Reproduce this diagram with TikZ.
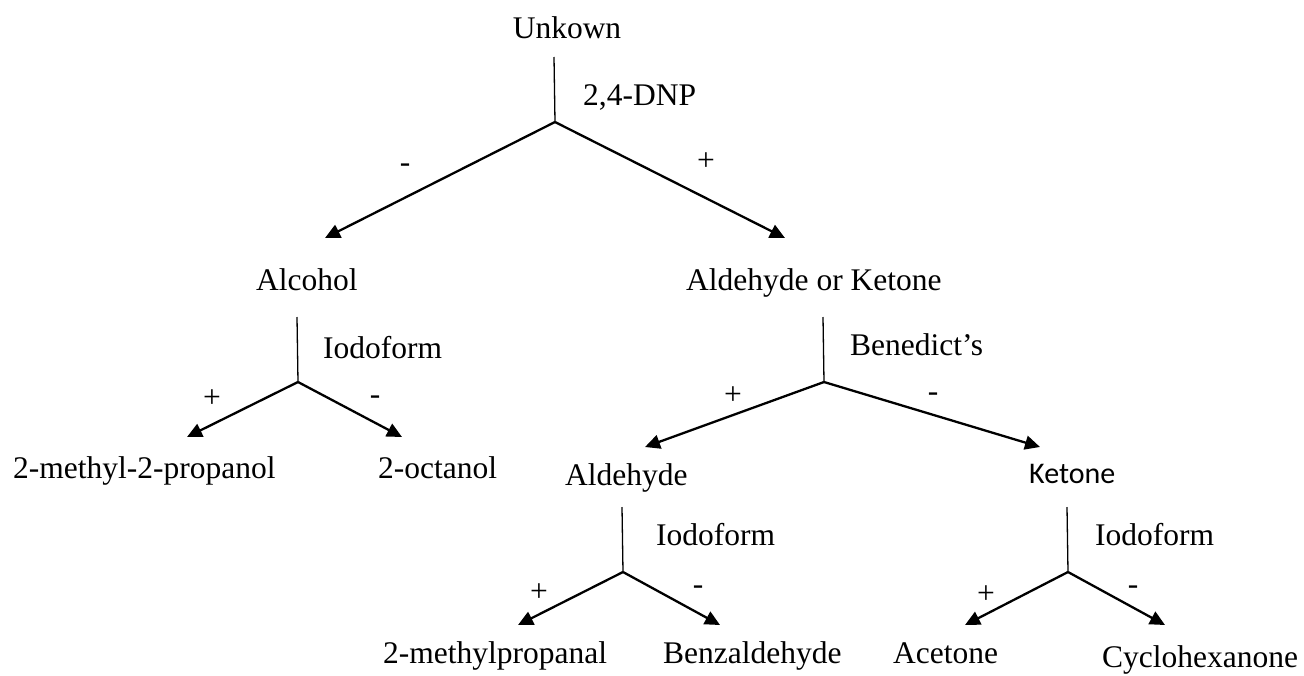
\documentclass[tikz,border=0pt]{standalone}
\usepackage{fontspec}
\setmainfont{Liberation Serif}
\newfontfamily\sansk{Carlito}
\usetikzlibrary{arrows.meta}
\begin{document}
\begin{tikzpicture}[x=1pt,y=-1pt,
  lbl/.style={inner sep=0pt,font=\fontsize{31.5}{36}\selectfont},
  slbl/.style={inner sep=0pt,font=\sansk\fontsize{30}{34}\selectfont},
  stem/.style={line width=1.3pt},
  arr/.style={line width=2.3pt,-{Triangle[length=15pt,width=14pt]}}]
\useasboundingbox (0,0) rectangle (1304,675);
% level 0
\node[lbl,anchor=base] (unk) at (567,38) {Unkown};
\node[lbl,anchor=base west] (dnp) at (583,105) {2,4-DNP};
\coordinate (t1) at (554,57);
\coordinate (b1) at (555,122);
\coordinate (a1) at (325,238);
\coordinate (a2) at (785,238);
\draw[stem] (t1) -- (b1);
\draw[arr] (b1) -- (a1);
\draw[arr] (b1) -- (a2);
\node[lbl,anchor=base] (m1) at (405,172) {-};
\node[lbl,anchor=base] (p1) at (706,170) {+};
% level 1
\node[lbl,anchor=base west] (alc) at (256,290) {Alcohol};
\node[lbl,anchor=base west] (ak) at (686,290) {Aldehyde or Ketone};
% alcohol branch
\coordinate (t2) at (297,317);
\coordinate (b2) at (298,382);
\coordinate (a3) at (187,437);
\coordinate (a4) at (402,437);
\draw[stem] (t2) -- (b2);
\draw[arr] (b2) -- (a3);
\draw[arr] (b2) -- (a4);
\node[lbl,anchor=base west] (io1) at (323,358) {Iodoform};
\node[lbl,anchor=base] (p2) at (212,407) {+};
\node[lbl,anchor=base] (m2) at (375,404) {-};
\node[lbl,anchor=base west] (mp) at (13,478) {2-methyl-2-propanol};
\node[lbl,anchor=base west] (oc) at (378,478) {2-octanol};
% benedict branch
\coordinate (t3) at (823,317);
\coordinate (b3) at (824,382);
\coordinate (a5) at (645,447);
\coordinate (a6) at (1040,447);
\draw[stem] (t3) -- (b3);
\draw[arr] (b3) -- (a5);
\draw[arr] (b3) -- (a6);
\node[lbl,anchor=base west] (ben) at (850,355) {Benedict’s};
\node[lbl,anchor=base] (p3) at (733,404) {+};
\node[lbl,anchor=base] (m3) at (933,401) {-};
\node[lbl,anchor=base west] (ald) at (565,485) {Aldehyde};
\node[slbl,anchor=base west] (ket) at (1029,483) {Ketone};
% aldehyde branch
\coordinate (t4) at (622,507);
\coordinate (b4) at (623,572);
\coordinate (a7) at (518,625);
\coordinate (a8) at (720,625);
\draw[stem] (t4) -- (b4);
\draw[arr] (b4) -- (a7);
\draw[arr] (b4) -- (a8);
\node[lbl,anchor=base west] (io2) at (656,545) {Iodoform};
\node[lbl,anchor=base] (p4) at (539,601) {+};
\node[lbl,anchor=base] (m4) at (698,594) {-};
\node[lbl,anchor=base west] (mpal) at (383,663) {2-methylpropanal};
\node[lbl,anchor=base west] (benz) at (663,663) {Benzaldehyde};
% ketone branch
\coordinate (t5) at (1067,507);
\coordinate (b5) at (1068,572);
\coordinate (a9) at (965,625);
\coordinate (a10) at (1165,625);
\draw[stem] (t5) -- (b5);
\draw[arr] (b5) -- (a9);
\draw[arr] (b5) -- (a10);
\node[lbl,anchor=base west] (io3) at (1095,545) {Iodoform};
\node[lbl,anchor=base] (p5) at (986,603) {+};
\node[lbl,anchor=base] (m5) at (1133,594) {-};
\node[lbl,anchor=base west] (acet) at (893,663) {Acetone};
\node[lbl,anchor=base west] (cyc) at (1102,667) {Cyclohexanone};
\end{tikzpicture}
\end{document}
